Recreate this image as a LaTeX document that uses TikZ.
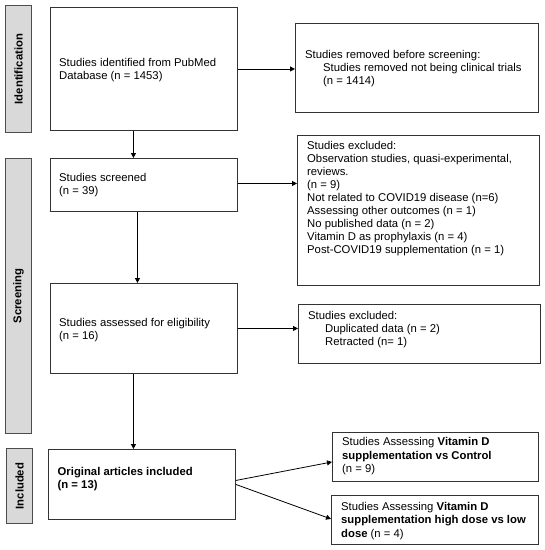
\documentclass[tikz,border=0pt]{standalone}
\usepackage{fontspec}
\setmainfont{Liberation Sans}
\usetikzlibrary{arrows.meta,calc}
\definecolor{barfill}{HTML}{D9D9D9}
\definecolor{barline}{HTML}{4D4D4D}
\definecolor{boxline}{HTML}{333333}
\begin{document}
\begin{tikzpicture}[x=1pt,y=-1pt,
  mainbox/.style={draw=boxline,line width=0.9pt,inner sep=0pt,anchor=north west},
  sidebar/.style={draw=barline,fill=barfill,line width=1.1pt,inner sep=0pt,anchor=north west},
  sidelabel/.style={rotate=90,inner sep=0pt,font=\fontsize{11.3}{13}\selectfont\bfseries},
  maintext/.style={anchor=north west,inner sep=0pt,align=left,font=\fontsize{11.3}{13}\selectfont},
  widetext/.style={anchor=north west,inner sep=0pt,align=left,font=\fontsize{11.3}{13.5}\selectfont},
  arr/.style={-{Triangle[length=5pt,width=5pt]},line width=0.8pt,black}]
\useasboundingbox (0,0) rectangle (545,550);
% side bars
\node[sidebar,minimum width=26pt,minimum height=127pt] (s1) at (5,5) {};
\node[sidelabel] (l1) at (s1.center) {Identification};
\node[sidebar,minimum width=26pt,minimum height=275pt] (s2) at (5,158) {};
\node[sidelabel] (l2) at (s2.center) {Screening};
\node[sidebar,minimum width=26pt,minimum height=75pt] (s3) at (6,448) {};
\node[sidelabel] (l3) at (s3.center) {Included};
% main boxes
\node[mainbox,minimum width=187pt,minimum height=123pt] (b1) at (50,7) {};
\node[mainbox,minimum width=187pt,minimum height=53pt] (b2) at (50,158) {};
\node[mainbox,minimum width=187pt,minimum height=90pt] (b3) at (50,283) {};
\node[mainbox,minimum width=187pt,minimum height=70pt] (b4) at (48,449) {};
% right boxes
\node[mainbox,minimum width=243pt,minimum height=89pt] (r1) at (295,23) {};
\node[mainbox,minimum width=242pt,minimum height=150pt] (r2) at (297,135) {};
\node[mainbox,minimum width=242pt,minimum height=59pt] (r3) at (298,304) {};
\node[mainbox,minimum width=206pt,minimum height=49pt] (r4) at (332,432) {};
\node[mainbox,minimum width=207pt,minimum height=49pt] (r5) at (331,495) {};
% texts
\node[maintext] (t1) at (59,58) {Studies identified from PubMed\\Database (n = 1453)};
\node[maintext] (t2) at (59,173) {Studies screened\\(n = 39)};
\node[maintext] (t3) at (59,318) {Studies assessed for eligibility\\(n = 16)};
\node[maintext] (t4) at (57.5,467) {\bfseries Original articles included\\\bfseries (n = 13)};
\node[maintext] (u1) at (305,50.5) {Studies removed before screening:\\\hspace*{18pt}Studies removed not being clinical trials\\\hspace*{18pt}(n = 1414)};
\node[maintext] (u2) at (307,141.5) {Studies excluded:\\Observation studies, quasi-experimental,\\reviews.\\(n = 9)\\Not related to COVID19 disease (n=6)\\Assessing other outcomes (n = 1)\\No published data (n = 2)\\Vitamin D as prophylaxis (n = 4)\\Post-COVID19 supplementation (n = 1)};
\node[maintext] (u3) at (308,311.5) {Studies excluded:\\\hspace*{17pt}Duplicated data (n = 2)\\\hspace*{17pt}Retracted (n= 1)};
\node[widetext] (u4) at (342,437.5) {Studies Assessing \textbf{Vitamin D}\\\textbf{supplementation vs Control}\\(n = 9)};
\node[widetext] (u5) at (341,502) {Studies Assessing \textbf{Vitamin D}\\\textbf{supplementation high dose vs low}\\\textbf{dose} (n = 4)};
% connectors
\draw[arr] (b1.east) -- (b1.east -| r1.west);
\draw[arr] ([yshift=1.5pt]b2.east) -- ([yshift=1.5pt]b2.east -| r2.west);
\draw[arr] (b3.east) -- (b3.east -| r3.west);
\coordinate (v1) at ([xshift=-10.5pt]b1.south);
\draw[arr] (v1) -- (v1 |- b2.north);
\coordinate (v2) at ([xshift=-6.5pt]b2.south);
\draw[arr] (v2) -- (v2 |- b3.north);
\coordinate (v3) at ([xshift=-10.5pt]b3.south);
\draw[arr] (v3) -- (v3 |- b4.north);
\draw[arr] ([yshift=4pt]b4.east) -- ([yshift=-5pt]r4.west);
\draw[arr] (b4.east) -- ([yshift=1pt]r5.west);
\end{tikzpicture}
\end{document}
